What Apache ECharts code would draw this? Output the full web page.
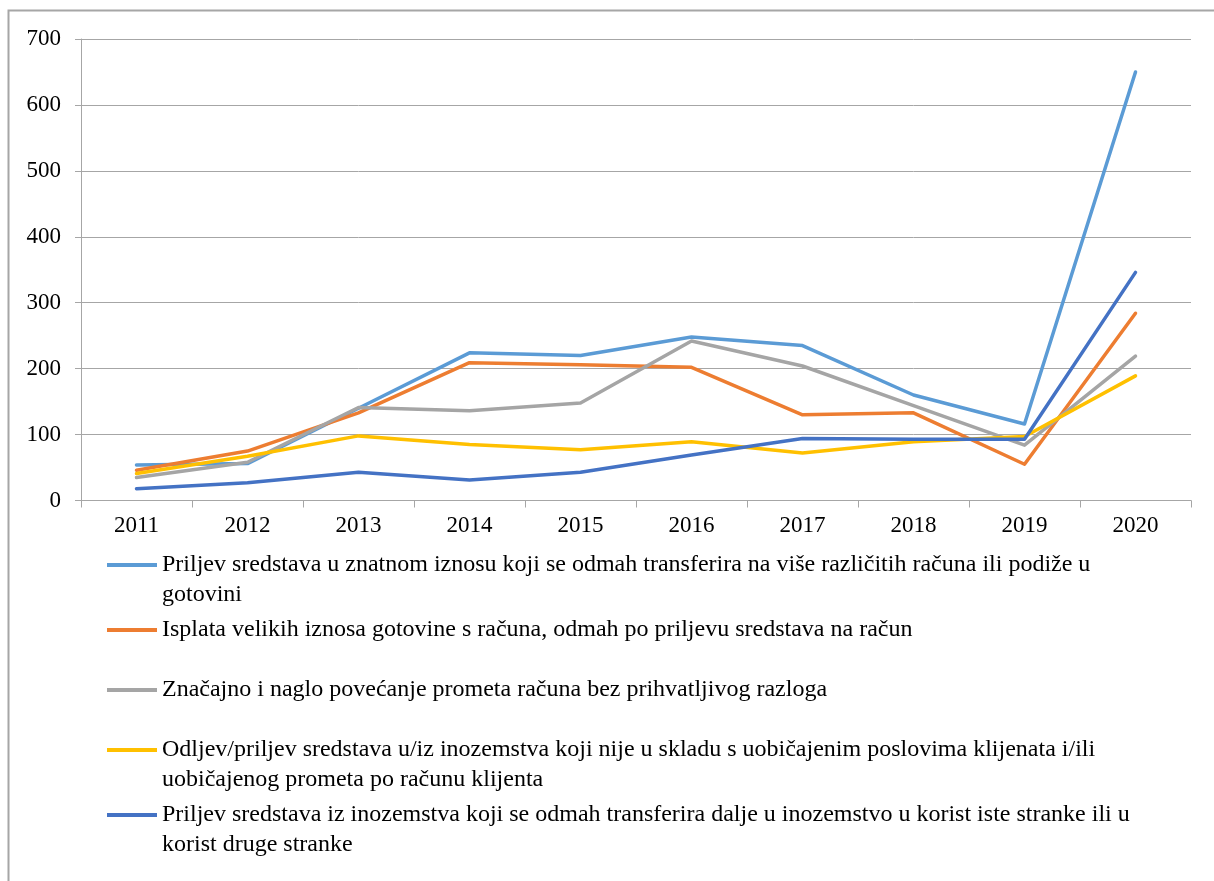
<!DOCTYPE html>
<html>
<head>
<meta charset="utf-8">
<script src="https://cdn.jsdelivr.net/npm/echarts@6/dist/echarts.min.js"></script>
<style>
html,body{margin:0;padding:0;background:#fff;}
#chart{width:1214px;height:881px;}
</style>
</head>
<body>
<div id="chart"></div>
<script>
const years = ['2011','2012','2013','2014','2015','2016','2017','2018','2019','2020'];
const seriesNames = [
  'Priljev sredstava u znatnom iznosu koji se odmah transferira na više različitih računa ili podiže u gotovini',
  'Isplata velikih iznosa gotovine s računa, odmah po priljevu sredstava na račun',
  'Značajno i naglo povećanje prometa računa bez prihvatljivog razloga',
  'Odljev/priljev sredstava u/iz inozemstva koji nije u skladu s uobičajenim poslovima klijenata i/ili uobičajenog prometa po računu klijenta',
  'Priljev sredstava iz inozemstva koji se odmah transferira dalje u inozemstvo u korist iste stranke ili u korist druge stranke'
];
const legendLines = [
  ['Priljev sredstava u znatnom iznosu koji se odmah transferira na više različitih računa ili podiže u', 'gotovini'],
  ['Isplata velikih iznosa gotovine s računa, odmah po priljevu sredstava na račun'],
  ['Značajno i naglo povećanje prometa računa bez prihvatljivog razloga'],
  ['Odljev/priljev sredstava u/iz inozemstva koji nije u skladu s uobičajenim poslovima klijenata i/ili', 'uobičajenog prometa po računu klijenta'],
  ['Priljev sredstava iz inozemstva koji se odmah transferira dalje u inozemstvo u korist iste stranke ili u', 'korist druge stranke']
];
const priljevZnatni = [54, 56, 140, 224, 220, 248, 235, 160, 116, 650];
const isplataGotovine = [46, 75, 133, 209, 206, 202, 130, 133, 55, 284];
const povecanjePrometa = [35, 58, 141, 136, 148, 242, 204, 144, 84, 219];
const odljevPriljev = [41, 67, 98, 85, 77, 89, 72, 89, 97, 189];
const priljevInozemstvo = [18, 27, 43, 31, 43, 69, 94, 93, 93, 346];
const yTicks = [0, 100, 200, 300, 400, 500, 600, 700];

const colors = ['#5B9BD5', '#ED7D31', '#A5A5A5', '#FFC000', '#4472C4'];
const allData = [priljevZnatni, isplataGotovine, povecanjePrometa, odljevPriljev, priljevInozemstvo];
const iconCenters = [565, 630, 690, 750, 815];
const LH = 30;
const FONT = '"Liberation Serif", "Times New Roman", serif';

const legends = seriesNames.map((name, i) => {
  const two = legendLines[i].length > 1;
  return {
    data: [name],
    left: 107,
    top: two ? iconCenters[i] - 45 : iconCenters[i] - 15,
    padding: 0,
    icon: 'rect',
    itemWidth: 50,
    itemHeight: 4,
    selectedMode: false,
    formatter: () => two ? '\n' + legendLines[i].join('\n') : legendLines[i][0],
    textStyle: {
      fontFamily: FONT,
      fontSize: 24,
      color: '#000',
      lineHeight: LH
    }
  };
});

const chart = echarts.init(document.getElementById('chart'), null, {renderer: 'canvas'});
chart.setOption({
  animation: false,
  backgroundColor: '#fff',
  color: colors,
  graphic: [{
    type: 'rect',
    shape: {x: 8.5, y: 10.5, width: 1300, height: 1000},
    style: {fill: 'none', stroke: '#A6A6A6', lineWidth: 2},
    silent: true,
    z: -10
  }],
  legend: legends,
  grid: {left: 81, right: 23, top: 39, bottom: 380.5, containLabel: false},
  xAxis: {
    type: 'category',
    data: years,
    boundaryGap: true,
    axisLine: {lineStyle: {color: '#A6A6A6', width: 1}},
    axisTick: {show: true, length: 7, lineStyle: {color: '#A6A6A6'}},
    axisLabel: {fontFamily: FONT, fontSize: 23, color: '#000', margin: 14}
  },
  yAxis: {
    type: 'value',
    min: 0,
    max: 700,
    interval: 100,
    axisLine: {show: true, lineStyle: {color: '#A6A6A6', width: 1}},
    axisTick: {show: true, length: 6, lineStyle: {color: '#A6A6A6'}},
    splitLine: {lineStyle: {color: '#A6A6A6', width: 1}},
    axisLabel: {fontFamily: FONT, fontSize: 23, color: '#000', margin: 20,
      formatter: v => yTicks.includes(v) ? String(v) : ''}
  },
  series: seriesNames.map((name, i) => ({
    name: name,
    type: 'line',
    data: allData[i],
    symbol: 'none',
    showSymbol: false,
    lineStyle: {width: 3.5, color: colors[i], cap: 'round', join: 'round'},
    itemStyle: {color: colors[i]}
  }))
});
</script>
</body>
</html>
